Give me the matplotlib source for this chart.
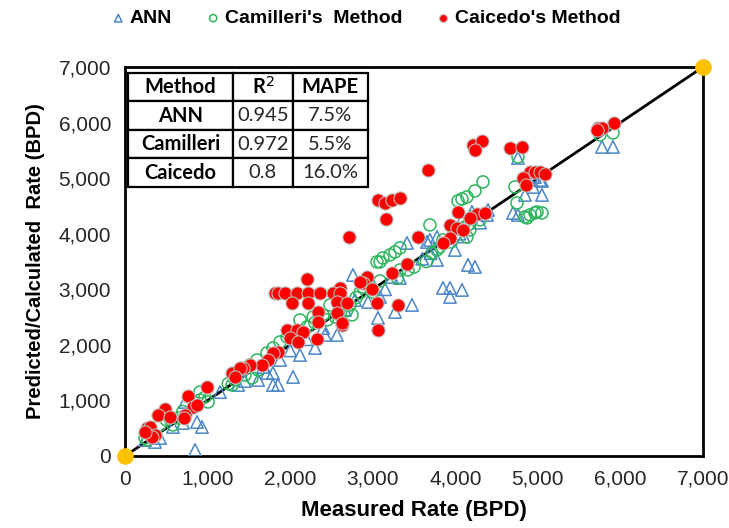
import matplotlib
matplotlib.use("Agg")
import matplotlib.pyplot as plt
from matplotlib import font_manager
from matplotlib.ticker import FuncFormatter

# ---- data ----
ann_x = [4759, 5777, 5910, 4965, 5026, 4844, 5050, 4759, 4941, 4699, 4202, 4384, 4081, 3778,
         3693, 3415, 4396, 3657, 3778, 3996, 4154, 2761, 3233, 3330, 2991, 3851, 3936, 4081,
         3936, 2785, 3088, 3476, 3270, 3064, 2943, 2664, 4238, 2567, 2422, 2035, 1792, 1853,
         2301, 2119, 1877, 1792, 1720, 1671, 848, 932, 872, 702, 727, 581, 363, 242, 424,
         1369, 1611, 2200, 2400, 2000, 1450, 1150, 3150, 3600, 3700, 4050, 4300, 5050, 4100]
ann_y = [5364, 5562, 5562, 5022, 4968, 4698, 4698, 4338, 4842, 4374, 4392, 4338, 4248, 3942,
         3888, 3834, 4428, 3852, 3528, 3708, 3438, 3258, 3222, 3204, 3114, 3024, 3024, 2988,
         2862, 2808, 2862, 2718, 2592, 2484, 2772, 2628, 3402, 2178, 2178, 1422, 1278, 1278,
         1944, 1818, 1728, 1494, 1494, 1602, 108, 522, 612, 594, 972, 522, 252, 288, 324,
         1278, 1368, 2100, 2300, 1900, 1350, 1150, 3000, 3550, 3650, 4000, 4200, 4950, 3950]

cam_x = [5752, 5910, 4759, 4723, 4747, 4844, 4905, 4965, 5050, 4335, 4238, 4141, 4081, 4033,
         3693, 4202, 4093, 4141, 4178, 4868, 4990, 3330, 3270, 3209, 3124, 3088, 3052, 3718,
         3778, 3815, 3851, 3427, 3330, 2846, 2882, 2725, 2688, 2749, 3088, 2119, 2277, 2483,
         2204, 1962, 1877, 1792, 1720, 1599, 1514, 2035, 2398, 969, 908, 642, 581, 424, 242,
         363, 278, 908, 1005, 1296, 1332, 1538, 1453, 1611, 2550, 2600, 3500, 3650, 3950,
         4150, 4300, 1250, 700, 500, 2450, 2300, 2800, 3000, 3300]
cam_y = [5778, 5814, 5382, 4842, 4554, 4302, 4338, 4374, 4374, 4932, 4770, 4662, 4626, 4590,
         4158, 4302, 4104, 3942, 4068, 4284, 4392, 3744, 3672, 3618, 3564, 3492, 3492, 3654,
         3708, 3762, 3888, 3348, 3348, 2934, 3042, 2718, 2628, 2538, 3150, 2448, 2502, 2718,
         2322, 2142, 2052, 1944, 1854, 1728, 1638, 2232, 2538, 1062, 1008, 684, 558, 558, 324,
         378, 288, 1152, 972, 1278, 1368, 1404, 1458, 1548, 2500, 2650, 3400, 3500, 3850,
         4150, 4250, 1300, 800, 650, 2450, 2400, 2850, 2950, 3200]

cai_x = [5922, 5728, 5777, 5716, 4662, 4808, 4905, 4965, 5026, 5086, 4820, 4856, 4214, 4323,
         4238, 3669, 3064, 3149, 3233, 3330, 3161, 4033, 4263, 4360, 4178, 3936, 4021, 4093,
         3548, 3936, 3851, 2713, 3415, 3233, 2931, 2882, 2991, 3052, 3306, 2600, 3064, 2628,
         2846, 2204, 1817, 1853, 1938, 2083, 2216, 2361, 2519, 2604, 2022, 2216, 2567, 2688,
         2337, 2567, 2337, 2628, 1962, 2083, 2156, 1998, 2095, 2325, 1853, 1792, 1732, 1659,
         1514, 1429, 993, 763, 823, 872, 727, 715, 484, 400, 545, 266, 303, 363, 327, 242,
         1296, 1393, 1332]
cai_y = [5994, 5904, 5904, 5868, 5544, 5562, 5112, 5112, 5112, 5076, 5004, 4878, 5598, 5670,
         5508, 5148, 4608, 4554, 4608, 4644, 4266, 4392, 4356, 4374, 4284, 4158, 4104, 4068,
         3942, 3924, 3834, 3942, 3456, 3294, 3222, 3114, 3006, 2754, 2718, 3030, 2268, 2358,
         3132, 3186, 2934, 2934, 2934, 2934, 2934, 2934, 2934, 2934, 2754, 2754, 2772, 2754,
         2592, 2574, 2412, 2394, 2268, 2268, 2232, 2124, 2052, 2106, 1872, 1854, 1728, 1638,
         1638, 1584, 1242, 1080, 882, 918, 738, 684, 846, 738, 702, 504, 522, 378, 342, 432,
         1494, 1584, 1422]

table_rows = ["ANN", "Camilleri", "Caicedo"]
r2_values = ["0.945", "0.972", "0.8"]
mape_values = ["7.5%", "5.5%", "16.0%"]
ticks = list(range(0, 7001, 1000))

# ---- fonts ----
names = {f.name for f in font_manager.fontManager.ttflist}
main_font = "Liberation Sans Narrow" if "Liberation Sans Narrow" in names else "Liberation Sans"
plt.rcParams["font.family"] = [main_font, "DejaVu Sans"]

fig = plt.figure(figsize=(7.29, 5.28), dpi=100)
ax = fig.add_axes([0.1715, 0.1364, 0.7928, 0.7367])

# 1:1 line with yellow end points
ax.plot([0, 7000], [0, 7000], color="black", lw=2, zorder=2)
ax.scatter([0, 7000], [0, 7000], s=120, color="#FFC000", zorder=6, clip_on=False)

ax.scatter(ann_x, ann_y, marker="^", s=80, facecolors="none", edgecolors="#4A86C8",
           linewidths=1.1, zorder=3, label="ANN")
ax.scatter(cam_x, cam_y, marker="o", s=75, facecolors="none", edgecolors="#2DB55D",
           linewidths=1.1, zorder=4, label="Camilleri's  Method")
ax.scatter(cai_x, cai_y, marker="o", s=90, facecolors="#FF0000", edgecolors="#BFBFBF",
           linewidths=0.8, zorder=5, label="Caicedo's Method")

ax.set_xlim(0, 7000)
ax.set_ylim(0, 7000)
ax.set_xticks(ticks)
ax.set_yticks(ticks)
fmt = FuncFormatter(lambda v, p: f"{int(v):,}")
ax.xaxis.set_major_formatter(fmt)
ax.yaxis.set_major_formatter(fmt)
ax.tick_params(length=0, labelsize=15, labelcolor="#262626", pad=10)
for s in ax.spines.values():
    s.set_linewidth(2)
    s.set_color("black")

ax.set_xlabel("Measured Rate (BPD)", fontsize=16, fontweight="bold", labelpad=8)
ax.set_ylabel("Predicted/Calculated  Rate (BPD)", fontsize=14.5, fontweight="bold", labelpad=10)

# summary table
cell_text = [[m, r, e] for m, r, e in zip(table_rows, r2_values, mape_values)]
tbl = ax.table(cellText=cell_text, colLabels=["Method", "R$^2$", "MAPE"],
               cellLoc="center", bbox=[0.005, 0.692, 0.415, 0.293], zorder=10)
tbl.auto_set_font_size(False)
col_w = [105, 60, 75]
for (r, c), cell in tbl.get_celld().items():
    cell.set_linewidth(1.6)
    cell.set_edgecolor("black")
    cell.set_facecolor("white")
    cell.set_width(col_w[c] / 240 * 0.415)
    txt = cell.get_text()
    txt.set_fontsize(14.5)
    txt.set_fontfamily(["Lato", "DejaVu Sans"])
    txt.set_color("#262626")
    if r == 0 or c == 0:
        txt.set_fontweight("bold")
        txt.set_color("black")

fig.legend(loc="center", bbox_to_anchor=(0.5, 0.965), ncol=3, frameon=False,
           prop={"weight": "bold", "size": 14}, markerscale=0.6,
           handletextpad=0.1, columnspacing=1.6, handlelength=1.0)

fig.savefig("out.png", dpi=100)
